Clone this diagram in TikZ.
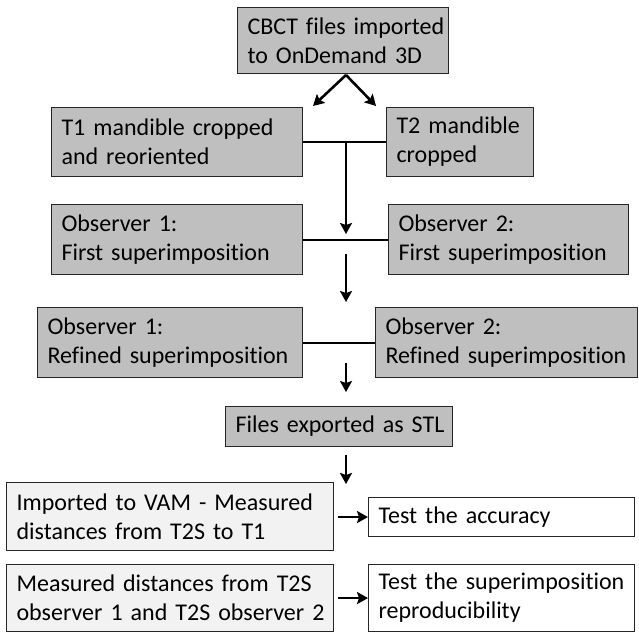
\documentclass[tikz,border=0pt]{standalone}
\usepackage{fontspec}
\setmainfont[Ligatures=NoCommon]{Carlito}
\usetikzlibrary{arrows.meta}
\definecolor{boxgray}{HTML}{BFBFBF}
\definecolor{boxlight}{HTML}{F2F2F2}
\tikzset{
  base/.style={draw=black!85, line width=1.1pt, anchor=north west, inner xsep=10pt, inner ysep=0pt,
    align=left, font=\fontsize{24}{29}\selectfont},
  graybox/.style={base, fill=boxgray},
  lightbox/.style={base, fill=boxlight},
  whitebox/.style={base, fill=white},
  link/.style={line width=2pt},
  flow/.style={line width=2.6pt, -{Stealth[length=11pt,width=12pt,inset=2pt]}},
}
\begin{document}
\begin{tikzpicture}[x=1pt,y=-1pt]
\useasboundingbox (0,0) rectangle (639,634);
% nodes: text width = W - 20
\node[graybox, text width=191pt, minimum height=66pt] (cbct) at (237,7) {\mbox{CBCT files imported}\\\mbox{to OnDemand 3D}};
\node[graybox, text width=231pt, minimum height=69pt] (t1) at (51,107) {\mbox{T1 mandible cropped}\\\mbox{and reoriented}};
\node[graybox, text width=127pt, minimum height=69pt] (t2) at (386,107) {\mbox{T2 mandible}\\\mbox{cropped}};
\node[graybox, text width=231pt, minimum height=70pt] (o1f) at (51,204) {\mbox{Observer 1:}\\\mbox{First superimposition}};
\node[graybox, text width=220pt, minimum height=70pt] (o2f) at (388,204) {\mbox{Observer 2:}\\\mbox{First superimposition}};
\node[graybox, text width=245pt, minimum height=70pt] (o1r) at (37,307) {\mbox{Observer 1:}\\\mbox{Refined superimposition}};
\node[graybox, text width=242pt, minimum height=70pt] (o2r) at (375,307) {\mbox{Observer 2:}\\\mbox{Refined superimposition}};
\node[graybox, text width=207pt, minimum height=40pt] (stl) at (225,406) {\mbox{Files exported as STL}};
\node[lightbox, text width=307pt, minimum height=68pt] (vam) at (6,482) {\mbox{Imported to VAM - Measured}\\\mbox{distances from T2S to T1}};
\node[whitebox, text width=246pt, minimum height=39pt] (acc) at (368,497) {\mbox{Test the accuracy}};
\node[lightbox, text width=307pt, minimum height=67pt] (meas) at (6,564) {\mbox{Measured distances from T2S}\\\mbox{observer 1 and T2S observer 2}};
\node[whitebox, text width=246pt, minimum height=67pt] (rep) at (368,564) {\mbox{Test the superimposition}\\\mbox{reproducibility}};
% coordinates
\coordinate (apex) at (346,75);
\coordinate (l1) at (313,106);
\coordinate (r1) at (376,106);
\coordinate (j1) at (346,141.5);
\coordinate (e1) at (346,234);
\coordinate (s2) at (346,254);
\coordinate (e2) at (346,302);
\coordinate (s3) at (346,363);
\coordinate (e3) at (346,392);
\coordinate (s4) at (346,455);
\coordinate (e4) at (346,484);
% connectors
\draw[flow] (apex) -- (l1);
\draw[flow] (apex) -- (r1);
\draw[link] (t1.east) -- (t2.west);
\draw[flow] (j1) -- (e1);
\draw[link] (o1f.east) -- (o2f.west);
\draw[flow] (s2) -- (e2);
\draw[link] (o1r.east) -- (o2r.west);
\draw[flow] (s3) -- (e3);
\draw[flow] (s4) -- (e4);
\draw[flow] ([xshift=4pt]vam.east |- acc.west) -- (acc.west);
\draw[flow] ([xshift=4pt]meas.east) -- (rep.west);
\end{tikzpicture}
\end{document}
